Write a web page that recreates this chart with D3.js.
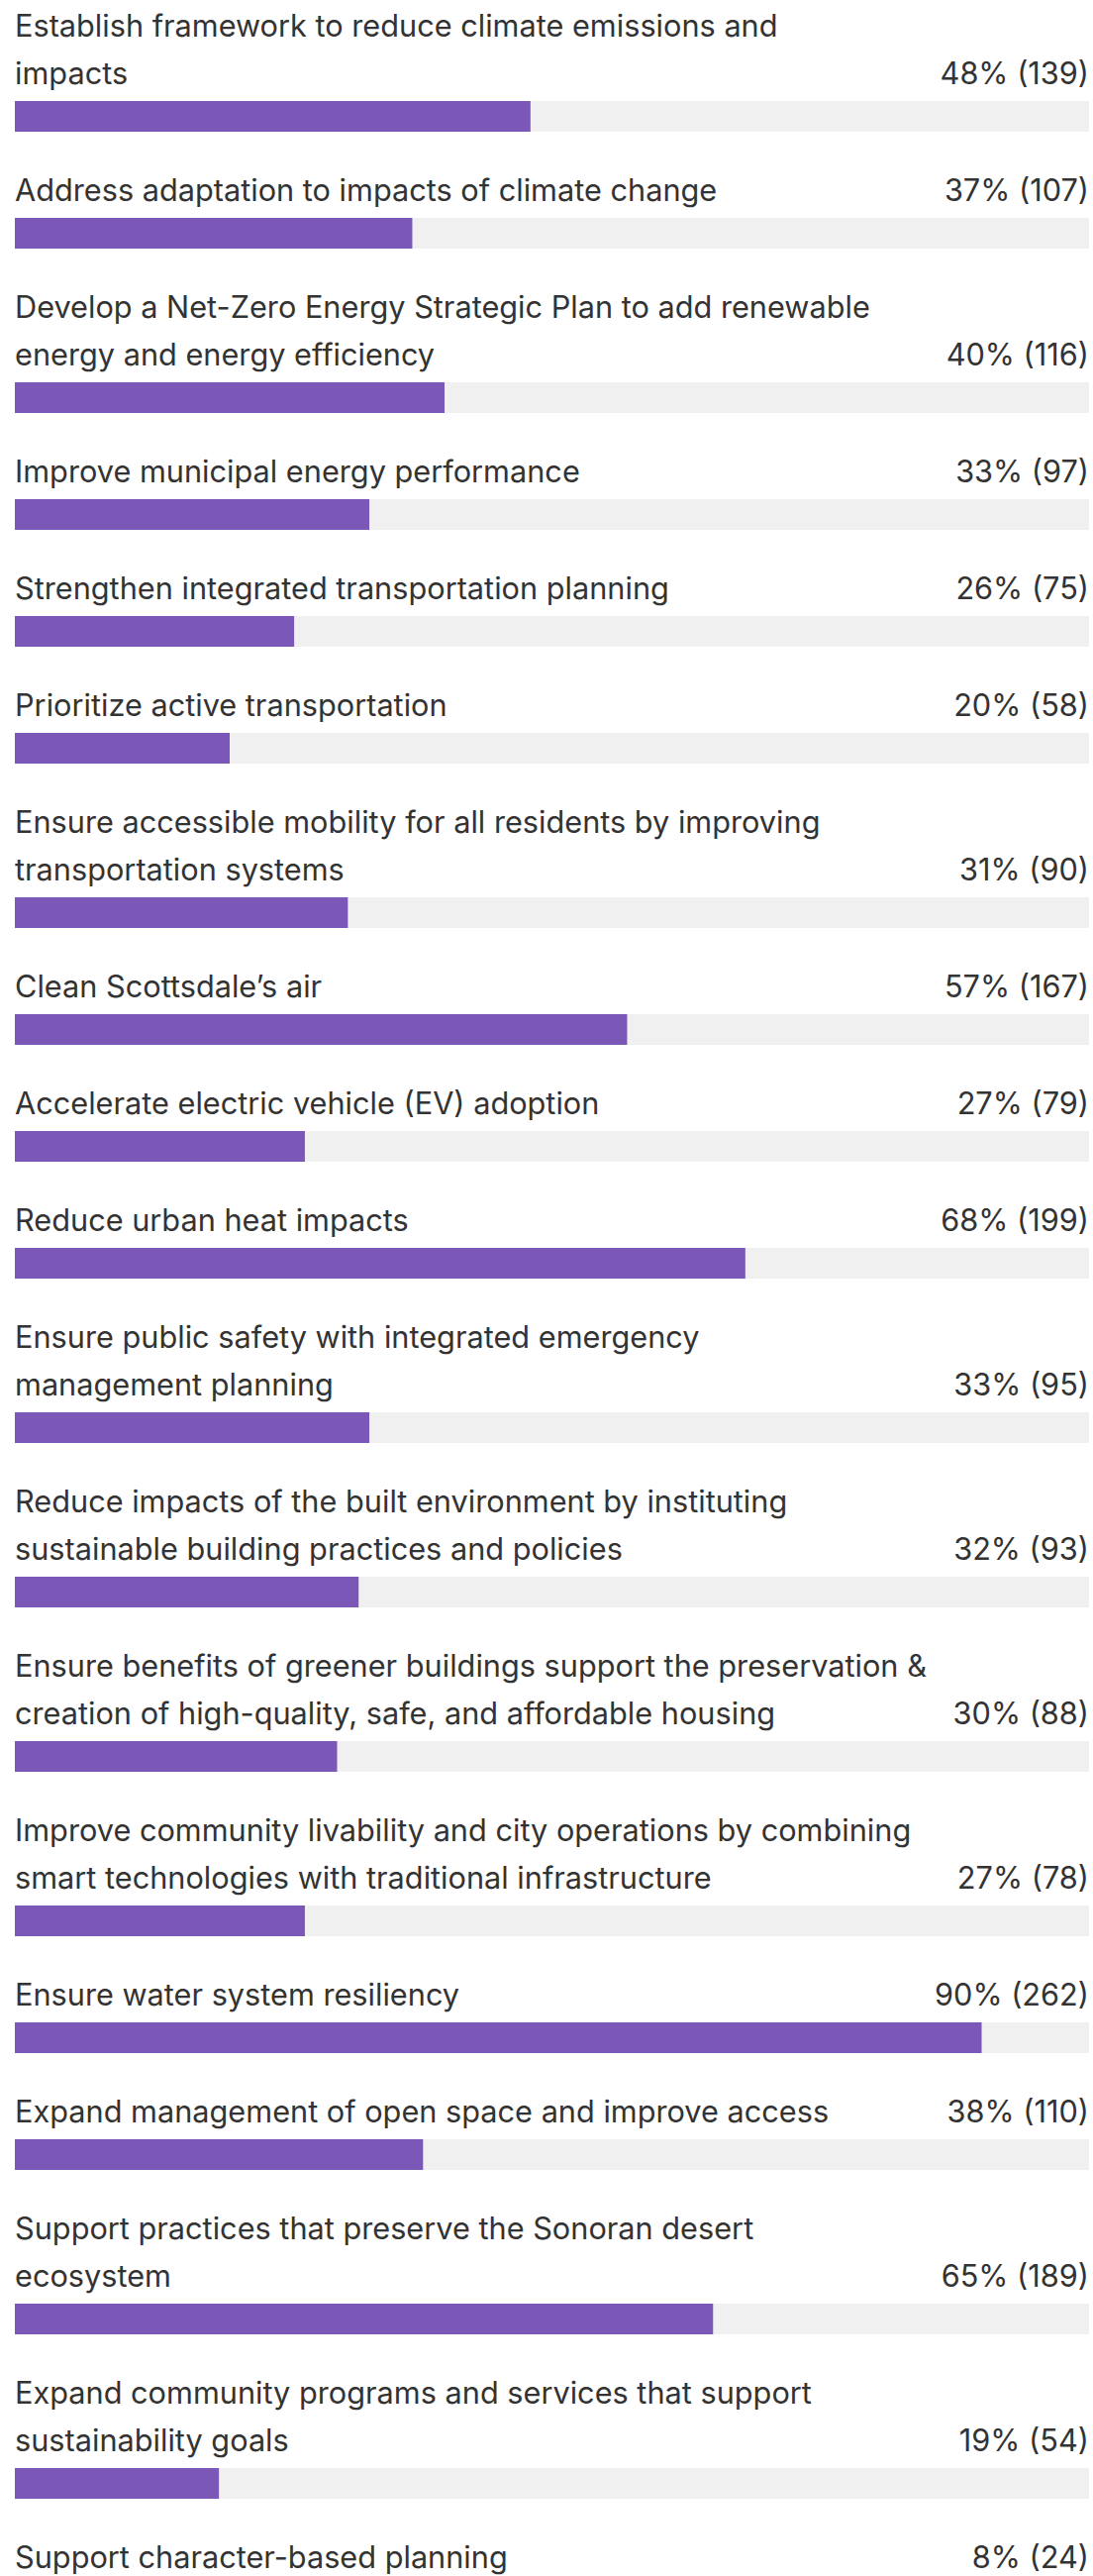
<!DOCTYPE html>
<html>
<head>
<meta charset="utf-8">
<script src="https://cdn.jsdelivr.net/npm/d3@7"></script>
<style>
  html, body { margin: 0; padding: 0; background: #fff; }
  svg { display: block; }
  text { font-family: Inter, Roboto, "Liberation Sans", sans-serif; fill: #333; }
</style>
</head>
<body>
<div id="chart"></div>
<script>
// survey answers, line breaks kept as in the source
const labels = [
  ["Establish framework to reduce climate emissions and", "impacts"],
  ["Address adaptation to impacts of climate change"],
  ["Develop a Net-Zero Energy Strategic Plan to add renewable", "energy and energy efficiency"],
  ["Improve municipal energy performance"],
  ["Strengthen integrated transportation planning"],
  ["Prioritize active transportation"],
  ["Ensure accessible mobility for all residents by improving", "transportation systems"],
  ["Clean Scottsdale’s air"],
  ["Accelerate electric vehicle (EV) adoption"],
  ["Reduce urban heat impacts"],
  ["Ensure public safety with integrated emergency", "management planning"],
  ["Reduce impacts of the built environment by instituting", "sustainable building practices and policies"],
  ["Ensure benefits of greener buildings support the preservation &", "creation of high-quality, safe, and affordable housing"],
  ["Improve community livability and city operations by combining", "smart technologies with traditional infrastructure"],
  ["Ensure water system resiliency"],
  ["Expand management of open space and improve access"],
  ["Support practices that preserve the Sonoran desert", "ecosystem"],
  ["Expand community programs and services that support", "sustainability goals"],
  ["Support character-based planning"]
]
const percents = [48, 37, 40, 33, 26, 20, 31, 57, 27, 68, 33, 32, 30, 27, 90, 38, 65, 19, 8]
const counts = [139, 107, 116, 97, 75, 58, 90, 167, 79, 199, 95, 93, 88, 78, 262, 110, 189, 54, 24]

const width = 1104
const height = 2601
const left = 15
const right = 1100
const lineGap = 48
const barGap = 17
const barHeight = 31
const rowGap = 101
const firstBaseline = 37
const fontSize = "30.7px"

const data = labels.map((lines, i) => ({ lines, pct: percents[i], n: counts[i] }))

// stack the rows: each starts below the previous bar
let y = firstBaseline
data.forEach(d => {
  d.baseline = y
  d.lastBaseline = y + lineGap * (d.lines.length - 1)
  d.barTop = d.lastBaseline + barGap
  y = d.barTop + rowGap
})

const x = d3.scaleLinear()
  .domain([0, 100])
  .range([left, right])

const svg = d3.select("#chart")
  .append("svg")
  .attr("width", width)
  .attr("height", height)

const rows = svg.selectAll("g.row")
  .data(data)
  .join("g")
  .attr("class", "row")

rows.append("rect")
  .attr("x", x(0))
  .attr("y", d => d.barTop)
  .attr("width", x(100) - x(0))
  .attr("height", barHeight)
  .attr("fill", "#f0f0f0")

rows.append("rect")
  .attr("x", x(0))
  .attr("y", d => d.barTop)
  .attr("width", d => x(d.pct) - x(0))
  .attr("height", barHeight)
  .attr("fill", "#7b58b7")

rows.each(function(d) {
  const g = d3.select(this)
  d.lines.forEach((line, j) => {
    g.append("text")
      .attr("x", left)
      .attr("y", d.baseline + j * lineGap)
      .style("font-size", fontSize)
      .text(line)
  })
})

rows.append("text")
  .attr("x", right)
  .attr("y", d => d.lastBaseline)
  .attr("text-anchor", "end")
  .style("font-size", fontSize)
  .text(d => `${d.pct}% (${d.n})`)
</script>
</body>
</html>
